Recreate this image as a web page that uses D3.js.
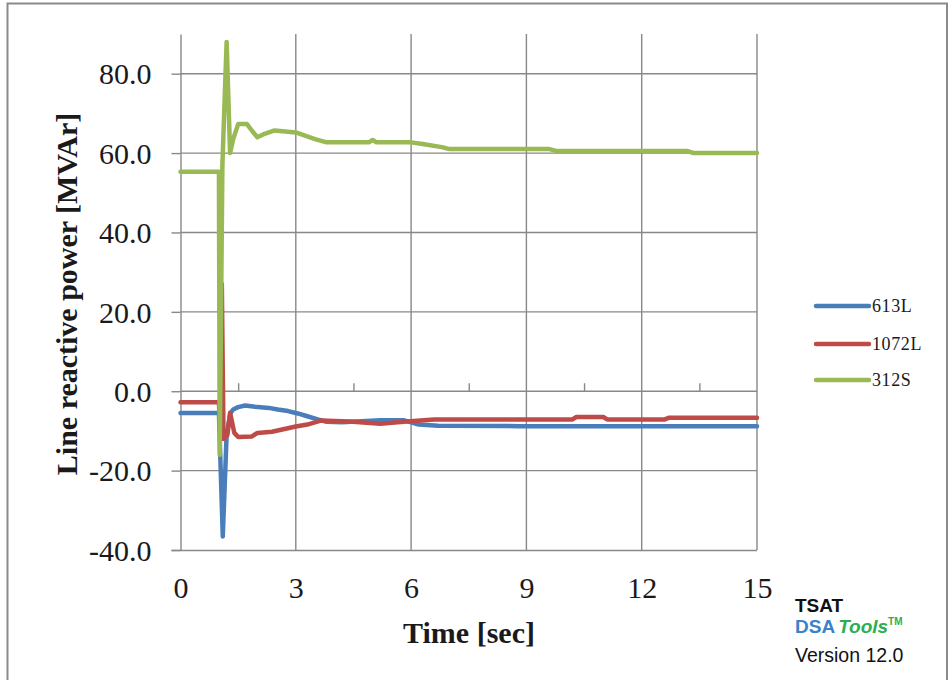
<!DOCTYPE html>
<html>
<head>
<meta charset="utf-8">
<script src="https://cdn.jsdelivr.net/npm/d3@7"></script>
<style>
  html, body { margin: 0; padding: 0; background: #fff; }
  svg { display: block; }
</style>
</head>
<body>
<svg id="chart" width="952" height="680"></svg>
<script>
// ---- Data ----
const seriesNames = ["613L", "1072L", "312S"];
const seriesColors = ["#4A7EBB", "#BE4B48", "#98B954"];

const t613 = [0, 1.0, 1.1, 1.2, 1.3, 1.37, 1.5, 1.68, 1.94, 2.3, 2.53, 2.8, 3.05, 3.3, 3.57, 3.8, 4.2, 5.2, 5.8, 6.2, 6.7, 8.8, 15];
const q613 = [-5.5, -5.5, -36.6, -11, -5.5, -4.6, -4.0, -3.6, -3.9, -4.2, -4.6, -5.0, -5.6, -6.3, -7.1, -7.7, -7.8, -7.3, -7.3, -8.4, -8.7, -8.8, -8.8];

const t1072 = [0, 1.0, 1.04, 1.075, 1.12, 1.22, 1.29, 1.4, 1.5, 1.86, 2.0, 2.38, 3.0, 3.3, 3.65, 4.4, 5.2, 5.8, 6.6, 10.2, 10.3, 11.0, 11.1, 12.6, 12.7, 15];
const q1072 = [-2.8, -2.8, -12, 27, -12, -11, -5.4, -10.5, -11.5, -11.4, -10.5, -10.2, -8.9, -8.4, -7.4, -7.6, -8.2, -7.7, -7.1, -7.1, -6.5, -6.5, -7.1, -7.1, -6.7, -6.7];

const t312 = [0, 1.0, 1.02, 1.09, 1.2, 1.29, 1.37, 1.5, 1.73, 1.87, 2.0, 2.15, 2.45, 3.0, 3.5, 3.8, 4.9, 5.0, 5.1, 6.0, 6.3, 6.8, 7.0, 9.6, 9.8, 13.2, 13.35, 15];
const q312 = [55.3, 55.3, -16, 57, 88, 60, 63.5, 67.3, 67.3, 65.5, 64, 64.7, 65.7, 65.2, 63.5, 62.7, 62.7, 63.3, 62.7, 62.7, 62.3, 61.5, 61, 61, 60.5, 60.5, 60, 60];

const xTicks = [0, 3, 6, 9, 12, 15];
const xMinorTicks = [1.5, 4.5, 7.5, 10.5, 13.5];
const yTicks = [-40, -20, 0, 20, 40, 60, 80];

const xTitle = "Time [sec]";
const yTitle = "Line reactive power [MVAr]";

// ---- Drawing ----
const svg = d3.select("#chart");
const serif = "'Liberation Serif', 'Times New Roman', serif";
const sans = "'Liberation Sans', Arial, sans-serif";
const gridColor = "#888888";

// outer frame
svg.append("rect")
  .attr("x", 7.5).attr("y", 3.5).attr("width", 939.5).attr("height", 720)
  .attr("fill", "#fff").attr("stroke", "#8a8a8a").attr("stroke-width", 2);

const x = d3.scaleLinear().domain([0, 15]).range([180.5, 757]);
const y = d3.scaleLinear().domain([-40, 90]).range([550, 34]);

// gridlines
const grid = svg.append("g");
grid.selectAll("line.h").data(yTicks.filter(v => v > -40)).join("line")
  .attr("x1", x(0)).attr("x2", x(15))
  .attr("y1", d => y(d)).attr("y2", d => y(d))
  .attr("stroke", gridColor).attr("stroke-width", 1.4);
grid.selectAll("line.v").data(xTicks.filter(v => v > 0)).join("line")
  .attr("x1", d => x(d)).attr("x2", d => x(d))
  .attr("y1", y(90)).attr("y2", y(-40))
  .attr("stroke", gridColor).attr("stroke-width", 1.4);

// bottom axis (labels), line at -40
const xAxis = svg.append("g")
  .attr("transform", `translate(0,${y(-40)})`)
  .call(d3.axisBottom(x).tickValues(xTicks).tickFormat(d3.format("d")).tickSize(0).tickSizeOuter(0).tickPadding(27));
xAxis.select(".domain").attr("stroke", gridColor).attr("stroke-width", 1.4)
  .attr("d", `M${x(0) - 9},0.5H${x(15)}`);
xAxis.selectAll("text").attr("font-family", serif).attr("font-size", 30).attr("fill", "#1a1a1a");

// minor ticks along the zero line
const minor = svg.append("g")
  .attr("transform", `translate(0,${y(0)})`)
  .call(d3.axisBottom(x).tickValues(xMinorTicks).tickFormat("").tickSize(-8).tickSizeOuter(0));
minor.select(".domain").remove();
minor.selectAll("line").attr("stroke", gridColor).attr("stroke-width", 1.4);

// left axis
const fmtY = v => d3.format(".1f")(v).replace("\u2212", "-");
const yAxis = svg.append("g")
  .attr("transform", `translate(${x(0)},0)`)
  .call(d3.axisLeft(y).tickValues(yTicks).tickFormat(fmtY).tickSize(9).tickSizeOuter(0).tickPadding(20));
yAxis.select(".domain").attr("stroke", gridColor).attr("stroke-width", 1.4);
yAxis.selectAll(".tick line").attr("stroke", gridColor).attr("stroke-width", 1.4);
yAxis.selectAll("text").attr("font-family", serif).attr("font-size", 30).attr("fill", "#1a1a1a")
  .attr("dy", "0.34em");

// series
const line = d3.line().x(d => x(d[0])).y(d => y(d[1]));
const series = [
  d3.zip(t613, q613),
  d3.zip(t1072, q1072),
  d3.zip(t312, q312)
];
svg.append("g").selectAll("path").data(series).join("path")
  .attr("d", line)
  .attr("fill", "none")
  .attr("stroke", (d, i) => seriesColors[i])
  .attr("stroke-width", 4.5)
  .attr("stroke-linejoin", "round")
  .attr("stroke-linecap", "round");

// axis titles
svg.append("text")
  .attr("x", 469).attr("y", 643)
  .attr("text-anchor", "middle")
  .attr("font-family", serif).attr("font-weight", "bold").attr("font-size", 30)
  .attr("fill", "#1a1a1a")
  .text(xTitle);
svg.append("text")
  .attr("transform", "translate(77,294) rotate(-90)")
  .attr("text-anchor", "middle")
  .attr("font-family", serif).attr("font-weight", "bold").attr("font-size", 30)
  .attr("fill", "#1a1a1a")
  .text(yTitle);

// legend
const legendY = [306, 344, 380];
const legend = svg.append("g");
seriesNames.forEach((name, i) => {
  legend.append("line")
    .attr("x1", 816).attr("x2", 869)
    .attr("y1", legendY[i]).attr("y2", legendY[i])
    .attr("stroke", seriesColors[i]).attr("stroke-width", 4.5)
    .attr("stroke-linecap", "round");
  legend.append("text")
    .attr("x", 872).attr("y", legendY[i]).attr("dy", "0.34em")
    .attr("font-family", serif).attr("font-size", 18)
    .attr("letter-spacing", "0.6px")
    .attr("fill", "#1a1a1a")
    .text(name);
});

// TSAT logo
svg.append("text").attr("x", 795).attr("y", 612)
  .attr("font-family", sans).attr("font-weight", "bold").attr("font-size", 19)
  .attr("fill", "#111").text("TSAT");
const dsa = svg.append("text").attr("x", 795).attr("y", 633)
  .attr("font-family", sans).attr("font-weight", "bold").attr("font-size", 19);
dsa.append("tspan").attr("fill", "#3B82C8").text("DSA");
dsa.append("tspan").attr("fill", "#2EAE4E").attr("font-style", "italic").attr("dx", 3).text("Tools");
dsa.append("tspan").attr("fill", "#2EAE4E").attr("font-size", 10).attr("dy", -8).text("TM");
svg.append("text").attr("x", 795).attr("y", 662)
  .attr("font-family", sans).attr("font-size", 19.5)
  .attr("fill", "#111").text("Version 12.0");
</script>
</body>
</html>
